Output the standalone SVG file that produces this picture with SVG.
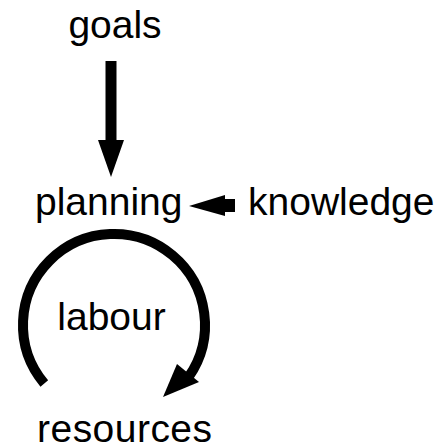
<svg xmlns="http://www.w3.org/2000/svg" width="445" height="447" viewBox="0 0 445 447">
<style>
text { font-family: "Liberation Sans", Arial, sans-serif; font-size: 39px; fill: #000; }
.ln { fill: none; stroke: #000; }
.hd { fill: #000; stroke: none; }
</style>
<rect width="445" height="447" fill="#fff"/>
<g id="goals"><text x="115" y="38" text-anchor="middle">goals</text></g>
<g id="planning"><text x="35" y="215">planning</text></g>
<g id="knowledge"><text x="248" y="215">knowledge</text></g>
<g id="labour"><text x="111.5" y="330" text-anchor="middle">labour</text></g>
<g id="resources"><text x="37" y="442" textLength="175" lengthAdjust="spacing">resources</text></g>
<g id="connectors">
  <line class="ln" x1="111" y1="61" x2="111" y2="141" stroke-width="11"/>
  <polygon class="hd" points="98,140 124,140 111,177"/>
  <line class="ln" x1="235" y1="205.5" x2="224" y2="205.5" stroke-width="13"/>
  <polygon class="hd" points="225,195 225,216 189,206"/>
  <path class="ln" d="M 44.3 383.5 A 91 91 0 1 1 188.5 377.2" stroke-width="10"/>
  <polygon class="hd" points="177,364 199,382 163,397"/>
</g>
</svg>
